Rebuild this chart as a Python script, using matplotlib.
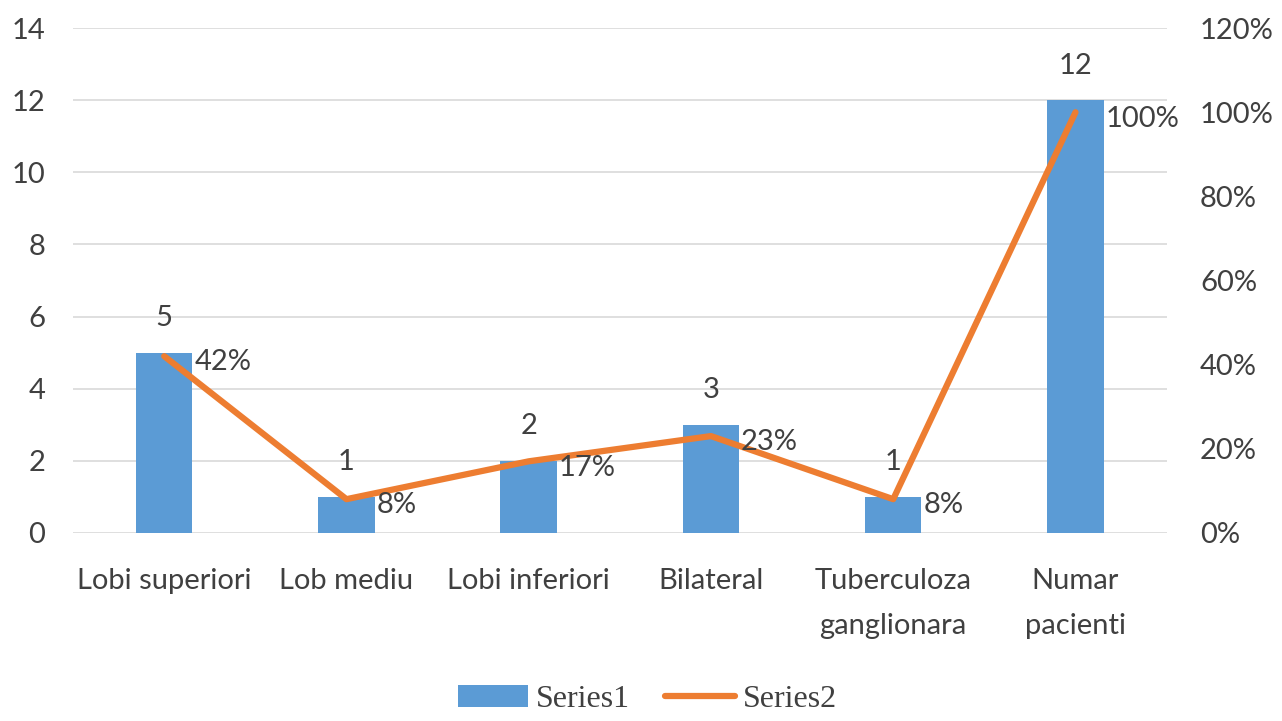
import numpy as np
import matplotlib
matplotlib.use("Agg")
import matplotlib.pyplot as plt

categories = ["Lobi superiori", "Lob mediu", "Lobi inferiori", "Bilateral",
              "Tuberculoza\nganglionara", "Numar\npacienti"]
series1 = [5, 1, 2, 3, 1, 12]
series2 = [0.42, 0.08, 0.17, 0.23, 0.08, 1.00]
left_ticks = [0, 2, 4, 6, 8, 10, 12, 14]
right_ticks = [0, 0.2, 0.4, 0.6, 0.8, 1.0, 1.2]

BLUE = "#5B9BD5"
ORANGE = "#ED7D31"
TXT = "#404040"
FONT = "Lato"
FS = 21

fig = plt.figure(figsize=(12.82, 7.21), dpi=100)
ax = fig.add_axes([0.057, 0.261, 0.853, 0.700])
ax2 = ax.twinx()

x = np.arange(len(categories))
ax.bar(x, series1, width=0.31, color=BLUE, zorder=2, label="Series1")
ax.set_ylim(0, 14)
ax.set_xlim(-0.5, len(categories) - 0.5)
ax.set_yticks(left_ticks)
ax.yaxis.grid(True, color="#D9D9D9", linewidth=1.2)
ax.set_axisbelow(True)
ax.set_xticks(x)
ax.set_xticklabels(categories, fontsize=FS, color=TXT, family=FONT, linespacing=1.95)
for lbl in ax.get_yticklabels():
    lbl.set_fontsize(FS)
    lbl.set_color(TXT)
    lbl.set_family(FONT)
ax.tick_params(axis="both", length=0)
ax.tick_params(axis="y", pad=20)
ax.tick_params(axis="x", pad=25)

for xi, v in zip(x, series1):
    ax.text(xi, v + 0.6, str(v), ha="center", va="bottom", fontsize=FS,
            color=TXT, family=FONT)

ax2.plot(x, series2, color=ORANGE, linewidth=4.5, zorder=3, label="Series2",
         solid_capstyle="round", solid_joinstyle="round")
ax2.set_ylim(0, 1.2)
ax2.set_yticks(right_ticks)
ax2.set_yticklabels([f"{int(round(t * 100))}%" for t in right_ticks],
                    fontsize=FS, color=TXT, family=FONT)
ax2.tick_params(axis="y", length=0, pad=24)
for xi, v in zip(x, series2):
    ax2.text(xi + 0.165, v - 0.015, f"{int(round(v * 100))}%", ha="left", va="center",
             fontsize=FS, color=TXT, family=FONT)

for a in (ax, ax2):
    for s in a.spines.values():
        s.set_visible(False)

h1, l1 = ax.get_legend_handles_labels()
h2, l2 = ax2.get_legend_handles_labels()
fig.legend(h1 + h2, l1 + l2, loc="center", bbox_to_anchor=(0.505, 0.03), ncol=2,
           frameon=False, prop={"family": "Liberation Serif", "size": 23},
           handlelength=2.2, handletextpad=0.25, columnspacing=1.1,
           labelcolor=TXT)

fig.savefig("out.png", dpi=100)
